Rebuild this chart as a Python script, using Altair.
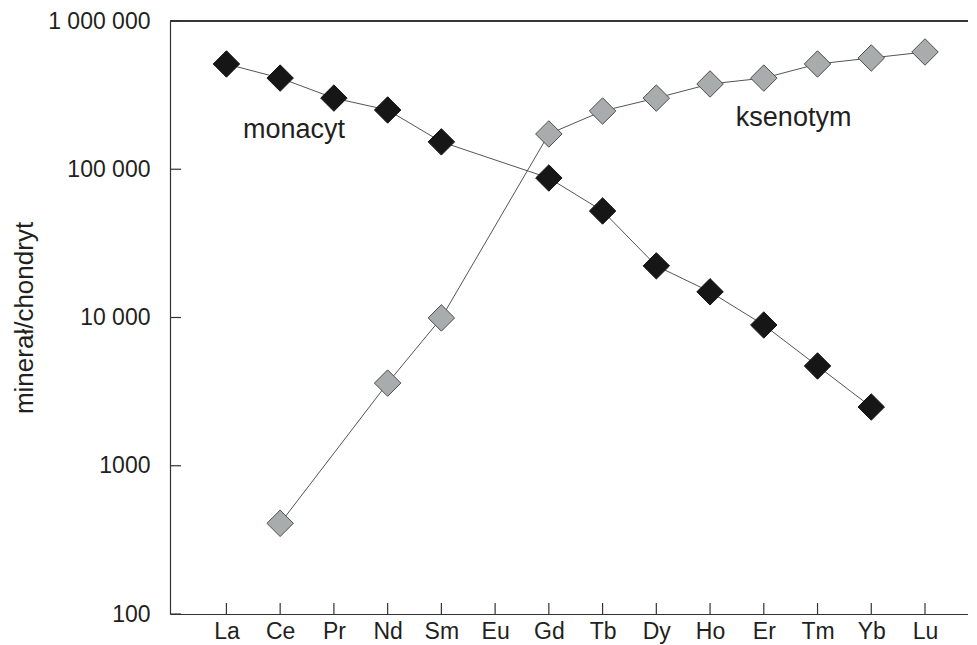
import altair as alt
import pandas as pd

# Rare earth elements (x categories)
elements = ["La", "Ce", "Pr", "Nd", "Sm", "Eu", "Gd", "Tb", "Dy", "Ho", "Er", "Tm", "Yb", "Lu"]

# monacyt (chondrite-normalised), no Eu value
mon_elements = ["La", "Ce", "Pr", "Nd", "Sm", "Gd", "Tb", "Dy", "Ho", "Er", "Tm", "Yb"]
mon_values = [513000, 412000, 302000, 251000, 153000, 87300, 52300, 22300, 14900, 8900, 4710, 2490]

# ksenotym
ksen_elements = ["Ce", "Nd", "Sm", "Gd", "Tb", "Dy", "Ho", "Er", "Tm", "Yb", "Lu"]
ksen_values = [409, 3610, 9930, 173000, 247000, 302000, 376000, 412000, 513000, 563000, 618000]

# y axis ticks and labels
y_ticks = [100, 1000, 10000, 100000, 1000000]
y_tick_labels = ["100", "1000", "10 000", "100 000", "1 000 000"]

# series annotation labels (text, x position in element-index units, y value)
ann_text = ["monacyt", "ksenotym"]
ann_x = [0.31, 9.48]
ann_y = [162500, 196000]

FONT = "Liberation Sans"
TXT = "#231f20"
AX = "#333333"

rows = []
for e, v in zip(mon_elements, mon_values):
    rows.append({"idx": elements.index(e), "el": e, "val": v, "series": "monacyt"})
for e, v in zip(ksen_elements, ksen_values):
    rows.append({"idx": elements.index(e), "el": e, "val": v, "series": "ksenotym"})
df = pd.DataFrame(rows)

xticks_df = pd.DataFrame({"idx": list(range(len(elements))), "el": elements})
yticks_df = pd.DataFrame({"val": y_ticks})
ann_df = pd.DataFrame({"text": ann_text, "x": ann_x, "y": ann_y})

x_label_expr = "[" + ",".join("'" + e + "'" for e in elements) + "][round(datum.value)]"
y_label_expr = " : ".join(
    f"datum.value == {v} ? '{l}'" for v, l in zip(y_ticks, y_tick_labels)
) + " : ''"

xscale = alt.Scale(domain=[-1.05, 13.8], nice=False, zero=False)
yscale = alt.Scale(type="log", domain=[100, 1000000], nice=False)

xaxis = alt.Axis(
    values=list(range(len(elements))),
    labelExpr=x_label_expr,
    title=None,
    grid=False,
    ticks=False,
    tickSize=0,
    domainColor=AX,
    domainWidth=1.2,
    labelFont=FONT,
    labelFontSize=23,
    labelColor=TXT,
    labelPadding=6,
)
yaxis = alt.Axis(
    values=y_ticks,
    labelExpr=y_label_expr,
    title="minerał/chondryt",
    grid=False,
    ticks=False,
    tickSize=0,
    domainColor=AX,
    domainWidth=1.2,
    labelFont=FONT,
    labelFontSize=23,
    labelColor=TXT,
    labelPadding=20,
    titleFont=FONT,
    titleFontSize=26,
    titleFontWeight="normal",
    titleColor=TXT,
    titlePadding=10,
)

fill_scale = alt.Scale(domain=["monacyt", "ksenotym"], range=["#161616", "#a9acad"])
stroke_scale = alt.Scale(domain=["monacyt", "ksenotym"], range=["#161616", "#4d4d4d"])

base = alt.Chart(df)

lines = base.mark_line(strokeWidth=1, color="#555555").encode(
    x=alt.X("idx:Q", scale=xscale, axis=xaxis),
    y=alt.Y("val:Q", scale=yscale, axis=yaxis),
    detail="series:N",
    order="idx:Q",
)

points = base.mark_point(shape="diamond", size=700, filled=True, opacity=1, strokeWidth=1).encode(
    x=alt.X("idx:Q", scale=xscale),
    y=alt.Y("val:Q", scale=yscale),
    fill=alt.Fill("series:N", scale=fill_scale, legend=None),
    stroke=alt.Stroke("series:N", scale=stroke_scale, legend=None),
)

xticks = alt.Chart(xticks_df).mark_rule(color=AX, strokeWidth=1.2).encode(
    x=alt.X("idx:Q", scale=xscale),
    y=alt.value(593),
    y2=alt.value(582),
)

yticks = alt.Chart(yticks_df).mark_rule(color=AX, strokeWidth=1.2).encode(
    y=alt.Y("val:Q", scale=yscale),
    x=alt.value(0),
    x2=alt.value(11),
)

top_border = alt.Chart(yticks_df).mark_rule(color=AX, strokeWidth=1.2).encode(
    y=alt.value(0),
    x=alt.value(0),
    x2=alt.value(798),
)

annotations = alt.Chart(ann_df).mark_text(
    align="left", baseline="alphabetic", font=FONT, fontSize=27, color=TXT
).encode(
    x=alt.X("x:Q", scale=xscale),
    y=alt.Y("y:Q", scale=yscale),
    text="text:N",
)

chart = alt.layer(lines, xticks, yticks, top_border, points, annotations).properties(
    width=798,
    height=593,
    autosize=alt.AutoSizeParams(type="none"),
    padding={"left": 162, "top": 13, "right": 0, "bottom": 31},
).configure_view(stroke=None).configure(background="white")

chart.save("out.html", embed_options={"renderer": "svg", "actions": False})
